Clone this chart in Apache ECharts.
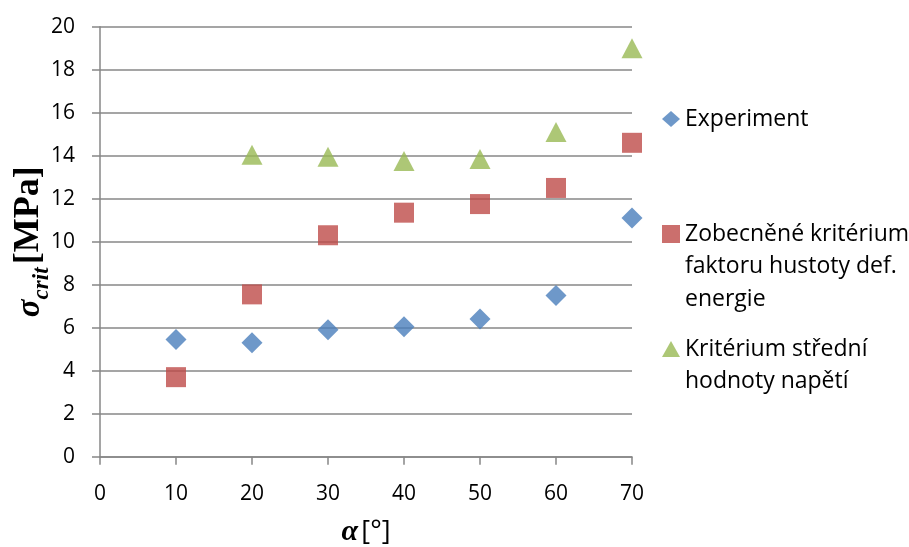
<!DOCTYPE html>
<html>
<head>
<meta charset="utf-8">
<script src="https://cdn.jsdelivr.net/npm/echarts@6/dist/echarts.min.js"></script>
<style>html,body{margin:0;padding:0;background:#fff;}#c{width:909px;height:547px;}</style>
</head>
<body>
<div id="c"></div>
<script>
var angles = [10, 20, 30, 40, 50, 60, 70];
var experiment = [5.45, 5.3, 5.9, 6.05, 6.4, 7.5, 11.1];
var zobecnene = [3.7, 7.55, 10.3, 11.35, 11.75, 12.5, 14.6];
var kriterium = [null, 14.05, 13.95, 13.75, 13.85, 15.1, 19.0];
var seriesNames = ['Experiment', 'Zobecněné kritérium\nfaktoru hustoty def.\nenergie', 'Kritérium střední\nhodnoty napětí'];
var xTicks = {min: 0, max: 70, step: 10};
var yTicks = {min: 0, max: 20, step: 2};

function pairs(vals) {
  var out = [];
  for (var i = 0; i < angles.length; i++) {
    if (vals[i] !== null) out.push([angles[i], vals[i]]);
  }
  return out;
}
// put the icon level with the first line of a multi-line legend label
function firstLineFormatter(name) {
  var n = name.split('\n').length;
  var pre = '';
  for (var i = 1; i < n; i++) pre += '\u00a0\n';
  return pre + name;
}

var FONT = 'Open Sans';
var gray = '#878787';
var LH = 32.5;
var legendText = {fontFamily: FONT, fontSize: 23, color: '#000', lineHeight: LH};

var chart = echarts.init(document.getElementById('c'), null, {renderer: 'canvas'});
chart.setOption({
  animation: false,
  backgroundColor: '#fff',
  grid: {left: 100, right: 277, top: 26.7, bottom: 90.3, containLabel: false, outerBoundsMode: 'none'},
  xAxis: {
    type: 'value', min: xTicks.min, max: xTicks.max, interval: xTicks.step,
    axisLine: {show: true, onZero: false, lineStyle: {color: gray, width: 1.5}},
    axisTick: {show: true, inside: false, length: 8, lineStyle: {color: gray, width: 1.5}},
    splitLine: {show: false},
    axisLabel: {fontFamily: FONT, fontSize: 21, color: '#000', margin: 27},
    name: '{a|α} {b|[°]}',
    nameLocation: 'middle', nameGap: 61, nameMoveOverlap: false,
    nameTextStyle: {
      rich: {
        a: {fontFamily: 'Liberation Serif', fontStyle: 'italic', fontWeight: 'bold', fontSize: 30, color: '#000'},
        b: {fontFamily: FONT, fontSize: 27, color: '#000'}
      }
    }
  },
  yAxis: {
    type: 'value', min: yTicks.min, max: yTicks.max, interval: yTicks.step,
    axisLine: {show: true, onZero: false, lineStyle: {color: gray, width: 1.5}},
    axisTick: {show: true, inside: false, length: 8, lineStyle: {color: gray, width: 1.5}},
    splitLine: {show: true, lineStyle: {color: gray, width: 1.5}},
    axisLabel: {fontFamily: FONT, fontSize: 21, color: '#000', margin: 25},
    name: '{s|σ}{c|crit} {b|[MPa]}',
    nameLocation: 'middle', nameGap: 53, nameRotate: 90, nameMoveOverlap: false,
    nameTextStyle: {
      rich: {
        s: {fontFamily: 'Liberation Serif', fontStyle: 'italic', fontWeight: 'bold', fontSize: 33, color: '#000', lineHeight: 40, verticalAlign: 'bottom'},
        c: {fontFamily: 'Liberation Serif', fontStyle: 'italic', fontWeight: 'bold', fontSize: 23, color: '#000', lineHeight: 40, verticalAlign: 'bottom', padding: [0, 0, -7, 0]},
        b: {fontFamily: 'Liberation Serif', fontWeight: 'bold', fontSize: 36, color: '#000', lineHeight: 40, verticalAlign: 'bottom'}
      }
    }
  },
  legend: [
    {data: [seriesNames[0]], left: 662, top: 119 - LH / 2, padding: 0, orient: 'vertical', itemWidth: 18, itemHeight: 16,
     icon: 'diamond', textStyle: legendText, selectedMode: false},
    {data: [seriesNames[1]], left: 662, top: 234 - 5 * LH / 2, padding: 0, orient: 'vertical', itemWidth: 18, itemHeight: 18,
     icon: 'rect', textStyle: legendText, selectedMode: false, formatter: firstLineFormatter},
    {data: [seriesNames[2]], left: 662, top: 349 - 3 * LH / 2, padding: 0, orient: 'vertical', itemWidth: 18, itemHeight: 16,
     icon: 'triangle', textStyle: legendText, selectedMode: false, formatter: firstLineFormatter}
  ],
  series: [
    {name: seriesNames[0], type: 'scatter', symbol: 'diamond', symbolSize: [21, 21],
     itemStyle: {color: '#4A7EBB'}, data: pairs(experiment)},
    {name: seriesNames[1], type: 'scatter', symbol: 'rect', symbolSize: [20, 20],
     itemStyle: {color: '#BE4B48'}, data: pairs(zobecnene)},
    {name: seriesNames[2], type: 'scatter', symbol: 'triangle', symbolSize: [21, 20],
     itemStyle: {color: '#98B954'}, data: pairs(kriterium)}
  ]
});
</script>
</body>
</html>
